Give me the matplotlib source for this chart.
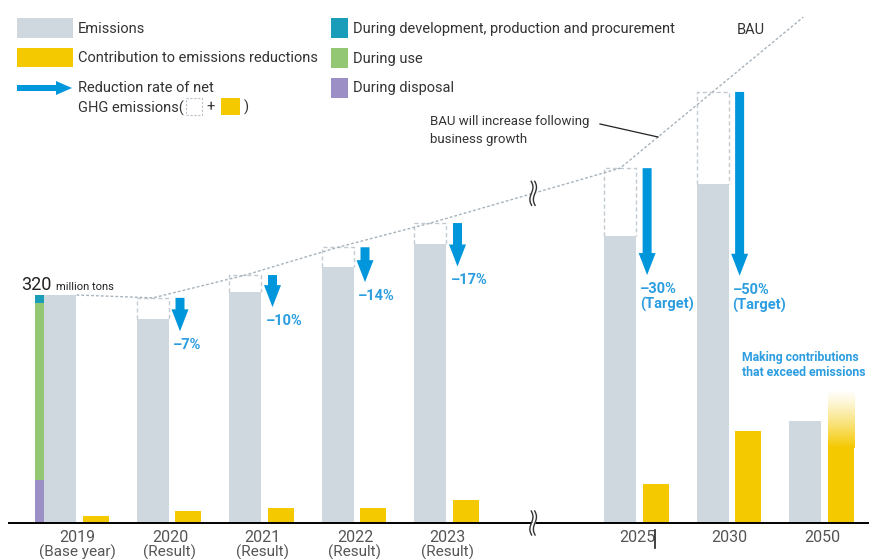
import numpy as np
import matplotlib
matplotlib.use('Agg')
import matplotlib.pyplot as plt
from matplotlib.patches import Rectangle, FancyArrow

plt.rcParams['font.family'] = ['Roboto', 'DejaVu Sans']

# -------- data (million tons CO2e) --------
years = ['2019', '2020', '2021', '2022', '2023', '2025', '2030', '2050']
year_notes = ['(Base year)', '(Result)', '(Result)', '(Result)', '(Result)', '', '', '']
emissions = [320, 286, 324, 359, 392, 403, 476, 143]
contributions = [10, 17, 21, 21, 32, 55, 129, 105]
contribution_2050_upper = 187
bau = [320, 316, 348, 387, 421, 498, 605]   # 2019 .. 2030
bau_end = 710
reduction_labels = ['–7%', '–10%', '–14%', '–17%', '–30%\n(Target)', '–50%\n(Target)']

stage_names = ['During development, production and procurement', 'During use', 'During disposal']
stage_values = [11, 249, 60]   # 2019 breakdown, top to bottom

# -------- style --------
GRAY = '#cfd8df'
YELLOW = '#f5c900'
BLUE = '#0096dc'
LBLUE = '#2b9de0'
TXT = '#333333'
stage_colors = ['#1a9db8', '#94c774', '#9c8fc6']

xpos = np.array([0, 1, 2, 3, 4, 6.05, 7.05, 8.05])
PXX = 92.5      # pixels per category unit
PXY = 0.7125    # pixels per million tons
def ux(px):
    return px / PXX
def uy(px):
    return px / PXY

fig = plt.figure(figsize=(8.7, 5.59), dpi=100)
ax = fig.add_axes([0, 0, 1, 1])
XLIM = (-60.5 / PXX, (870 - 60.5) / PXX)
YLIM = (-36 / PXY, 523 / PXY)
ax.axis('off')

GW = ux(32)
YW = ux(26)
YOFF = ux(35.5)

# emissions and contribution bars
ax.bar(xpos, emissions, width=GW, color=GRAY, zorder=2)
ax.bar(xpos + YOFF, contributions, width=YW, color=YELLOW, zorder=2)

# 2050 contribution fades out above the solid part
grad = np.zeros((100, 1, 4))
grad[..., 0] = 0xf5 / 255
grad[..., 1] = 0xc9 / 255
grad[:, 0, 3] = np.linspace(1, 0, 100) ** 1.2
x0 = xpos[-1] + YOFF - YW / 2
ax.imshow(grad, extent=[x0, x0 + YW, contributions[-1], contribution_2050_upper],
          origin='lower', aspect='auto', zorder=2)
ax.set_xlim(*XLIM)
ax.set_ylim(*YLIM)

# 2019 breakdown by life-cycle stage
sx = xpos[0] - ux(21)
bottom = 0
for v, c in zip(stage_values[::-1], stage_colors[::-1]):
    ax.bar(sx, v, bottom=bottom, width=ux(9), color=c, zorder=2)
    bottom += v

# BAU dashed boxes
for i in range(1, 7):
    l, r = xpos[i] - GW / 2, xpos[i] + GW / 2
    ax.plot([l, l, r, r], [emissions[i], bau[i], bau[i], emissions[i]],
            color='#c3cbd2', lw=1, ls=(0, (3, 2)), zorder=3)

# BAU line
bau_x = [xpos[0] + GW / 2] + list(xpos[1:7]) + [xpos[7] - 0.02]
bau_y = bau + [bau_end]
ax.plot(bau_x, bau_y, color='#a6b3bd', lw=1, ls=(0, (2, 1.5)), zorder=3)

# reduction arrows and rates
for i in range(1, 7):
    axx = xpos[i] + ux(27)
    top = bau[i]
    tip = emissions[i] - contributions[i]
    ax.add_patch(FancyArrow(axx, top, 0, tip - top, width=ux(9), head_width=ux(17),
                            head_length=uy(22), length_includes_head=True,
                            color=BLUE, lw=0, zorder=4))
    ax.text(axx - ux(7), tip - uy(7), reduction_labels[i - 1], color=LBLUE,
            fontsize=10.5, fontweight='bold', va='top', ha='left', linespacing=1.1)

# baseline
ax.plot([XLIM[0] + ux(9), XLIM[1]], [0, 0], color='black', lw=1.4, zorder=5)

# year labels
for x, y, n in zip(xpos, years, year_notes):
    ax.text(x + ux(17), -uy(15), y, ha='center', va='center', fontsize=11.5, color='#555555')
    if n:
        ax.text(x + ux(17), -uy(29), n, ha='center', va='center', fontsize=11, color='#555555')

# axis break marks
def draw_break(x, y):
    t = np.linspace(-1, 1, 40)
    ys = y + uy(12) * t
    xs = x + ux(2.2) * np.sin(np.pi * t * 0.85) - ux(1.2) * t
    gap = ux(3.5)
    ax.fill_betweenx(ys, xs - gap / 2, xs + gap / 2, color='white', lw=0, zorder=6)
    ax.plot(xs - gap / 2, ys, color='#333333', lw=1, zorder=7)
    ax.plot(xs + gap / 2, ys, color='#333333', lw=1, zorder=7)

brk_x = 5.11
draw_break(brk_x, 0)
draw_break(brk_x, np.interp(brk_x, bau_x, bau_y))

# -------- legend and notes (pixel coordinates) --------
ov = fig.add_axes([0, 0, 1, 1])
ov.set_xlim(0, 870)
ov.set_ylim(559, 0)
ov.axis('off')

FS = 10.5
ov.add_patch(Rectangle((17, 18), 56, 20, color=GRAY, lw=0))
ov.text(78, 29, 'Emissions', fontsize=FS, color=TXT, va='center')
ov.add_patch(Rectangle((17, 48), 56, 19, color=YELLOW, lw=0))
ov.text(78, 58, 'Contribution to emissions reductions', fontsize=FS, color=TXT, va='center')
ov.add_patch(FancyArrow(17, 88, 55, 0, width=6, head_width=14, head_length=16,
                        length_includes_head=True, color=BLUE, lw=0))
ov.text(78, 88, 'Reduction rate of net', fontsize=FS, color=TXT, va='center')
ov.text(78, 108, 'GHG emissions(', fontsize=FS, color=TXT, va='center')
ov.add_patch(Rectangle((186, 98), 16, 17, fill=False, ec='#b9c2ca', lw=0.8, ls=(0, (2, 1.5))))
ov.text(211, 107, '+', fontsize=FS, color=TXT, va='center', ha='center')
ov.add_patch(Rectangle((221, 98), 19, 17, color=YELLOW, lw=0))
ov.text(244, 107, ')', fontsize=FS, color=TXT, va='center')

for k, (name, c) in enumerate(zip(stage_names, stage_colors)):
    ov.add_patch(Rectangle((331, 18 + 30 * k), 17, 20, color=c, lw=0))
    ov.text(353, 29 + 29.5 * k, name, fontsize=FS, color=TXT, va='center')

ov.text(21, 290, '320', fontsize=13, color='#222222', va='baseline')
ov.text(56, 290, 'million tons', fontsize=8, color='#222222', va='baseline')

ov.text(737, 30, 'BAU', fontsize=FS, color=TXT, va='center')
ov.text(430, 122, 'BAU will increase following', fontsize=9.5, color=TXT, va='center')
ov.text(430, 140, 'business growth', fontsize=9.5, color=TXT, va='center')
ov.plot([600, 658], [124, 137], color='#222222', lw=0.9)

ov.text(742, 358, 'Making contributions', fontsize=8.8, fontweight='bold', color=LBLUE, va='center')
ov.text(742, 373, 'that exceed emissions', fontsize=8.8, fontweight='bold', color=LBLUE, va='center')

ov.plot([655, 655], [530, 548], color='#222222', lw=1.2)

fig.savefig('out.png', dpi=100)
